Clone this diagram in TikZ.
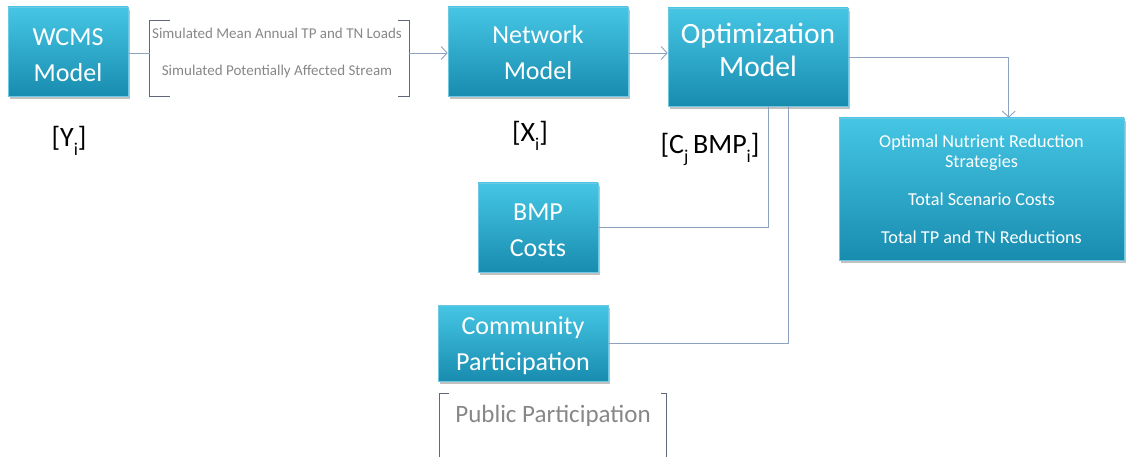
\documentclass[tikz,border=0pt]{standalone}
\usepackage{fontspec}
\setmainfont{Carlito}
\usetikzlibrary{arrows.meta,shadows,calc}
\definecolor{boxtop}{RGB}{70,198,228}
\definecolor{boxbot}{RGB}{24,140,175}
\definecolor{boxedge}{RGB}{110,200,225}
\definecolor{conn}{RGB}{140,162,190}
\definecolor{brk}{RGB}{95,105,120}
\definecolor{gtext}{RGB}{135,135,135}
\tikzset{
  model/.style={rectangle, top color=boxtop, bottom color=boxbot, draw=boxedge, line width=0.6pt,
    text=white, font=\fontsize{26}{36}\selectfont, align=center, inner sep=0pt,
    drop shadow={shadow xshift=2pt, shadow yshift=-3pt, opacity=0.35, fill=black!70}},
  bigmodel/.style={model, font=\fontsize{29.5}{33}\selectfont},
  resbox/.style={model, font=\fontsize{18.2}{20}\selectfont},
  conn/.style={draw=conn, line width=0.9pt},
  arr/.style={conn, -{Straight Barb[length=6pt,width=13pt,line width=0.9pt]}},
  brk/.style={draw=brk, line width=0.9pt},
  lab/.style={font=\fontsize{28}{32}\selectfont, text=black, inner sep=0pt},
  gray/.style={text=gtext, align=center, inner sep=0pt}
}
\newcommand{\subi}[1]{\raisebox{-0.32em}{\fontsize{18}{18}\selectfont #1}}
\newcommand{\boxtxt}[2]{\raisebox{#1}[\height][\depth]{\begin{tabular}{@{}c@{}}#2\end{tabular}}}
\begin{document}
\begin{tikzpicture}[x=1pt,y=-1pt]
\useasboundingbox (0,0) rectangle (1126,457);
% main boxes
\node[model, minimum width=120, minimum height=89] (wcms) at (68,51.5) {\boxtxt{-5pt}{WCMS\\Model}};
\node[model, minimum width=180, minimum height=89] (net) at (538,51.5) {\boxtxt{-2.5pt}{Network\\Model}};
\node[bigmodel, minimum width=180, minimum height=98] (opt) at (758,57) {\boxtxt{4pt}{Optimization\\Model}};
\node[model, minimum width=120, minimum height=89] (bmp) at (538,227.5) {\boxtxt{-4pt}{BMP\\Costs}};
\node[model, minimum width=170, minimum height=76] (com) at (523,343) {\boxtxt{-2pt}{Community\\Participation}};
\node[resbox, minimum width=285, minimum height=142] (res) at (981.5,189) {%
  Optimal Nutrient Reduction\\Strategies\\[18pt]Total Scenario Costs\\[18pt]Total TP and TN Reductions};
% bracket group with simulated outputs
\node[minimum width=259, minimum height=75, inner sep=0pt] (sim) at (279.5,58.5) {};
\draw[brk] ($(sim.north west)+(20,0)$) -- (sim.north west) -- (sim.south west) -- ++(20,0);
\draw[brk] ($(sim.north east)+(-11,0)$) -- (sim.north east) -- (sim.south east) -- ++(-11,0);
\node[gray, font=\fontsize{15}{18}\selectfont] (sim1) at (277,33) {Simulated Mean Annual TP and TN Loads};
\node[gray, font=\fontsize{15}{18}\selectfont] (sim2) at (277,72) {Simulated Potentially Affected Stream};
% public participation bracket
\node[minimum width=227, minimum height=70, anchor=north west, inner sep=0pt] (pub) at (439,393) {};
\node[gray, font=\fontsize{25}{28}\selectfont] (pubt) at (553,416) {Public Participation};
\draw[brk] (pub.south west) -- (pub.north west) -- ++(10,0);
\draw[brk] ($(pub.north east)+(-5,0)$) -- (pub.north east) -- (pub.south east);
% labels
\node[lab] (ly) at (69,141) {[Y\subi{i}]};
\node[lab] (lx) at (530,136) {[X\subi{i}]};
\node[lab] (lc) at (710,149) {[C\subi{j}\,BMP\subi{i}]};
% connectors
\draw[conn] (wcms.east |- 0,53) coordinate (w1) -- (sim.west |- w1);
\draw[arr] (sim.east |- 0,53) coordinate (s1) -- (net.west |- s1);
\draw[arr] (net.east |- 0,53) coordinate (n1) -- (opt.west |- n1);
\draw[arr] (opt.east) -| ($(res.north west)+(170,0)$) coordinate (r1);
\draw[conn] (bmp.east) -| ($(opt.south west)+(101,0)$) coordinate (o1);
\draw[conn] (com.east) -| ($(opt.south west)+(121,0)$) coordinate (o2);
\end{tikzpicture}
\end{document}
